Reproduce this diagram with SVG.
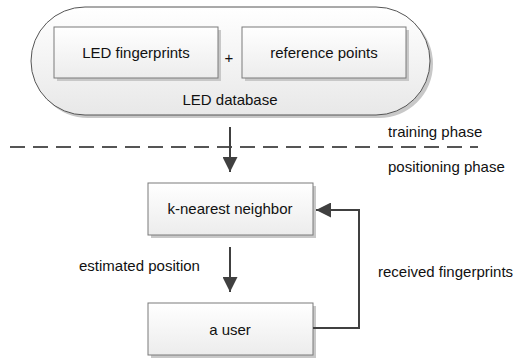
<svg xmlns="http://www.w3.org/2000/svg" width="528" height="358" viewBox="0 0 528 358">
<defs>
<linearGradient id="g" x1="0" y1="0" x2="0" y2="1"><stop offset="0" stop-color="#ffffff"/><stop offset="1" stop-color="#ececec"/></linearGradient>
<linearGradient id="gp" x1="0" y1="0" x2="0" y2="1"><stop offset="0" stop-color="#ffffff"/><stop offset="1" stop-color="#e8e8e8"/></linearGradient>
<marker id="ah" viewBox="0 0 10 10" refX="10" refY="5" markerWidth="7.5" markerHeight="7.5" orient="auto" markerUnits="strokeWidth"><path d="M0,0 L10,5 L0,10 z" fill="#404040"/></marker>
</defs>
<style>
text{font-family:"Liberation Sans",Arial,sans-serif;font-size:15px;fill:#111}
.box{fill:url(#g);stroke:#7a7a7a;stroke-width:1}
.sh{fill:#c8c8c8}
.c{fill:none;stroke:#404040;stroke-width:2}
</style>
<rect width="528" height="358" fill="#fff"/>
<g id="database">
<rect x="34" y="10" width="399" height="108" rx="54" class="sh"/>
<rect x="31" y="7" width="399" height="108" rx="54" fill="url(#gp)" stroke="#555" stroke-width="1"/>
<text x="230" y="105" text-anchor="middle">LED database</text>
</g>
<g id="led-fingerprints">
<rect x="57" y="30" width="164" height="51" class="sh"/>
<rect x="54" y="27" width="164" height="51" class="box"/>
<text x="136" y="58" text-anchor="middle">LED fingerprints</text>
</g>
<text x="229" y="63" text-anchor="middle">+</text>
<g id="reference-points">
<rect x="245" y="30" width="164" height="51" class="sh"/>
<rect x="242" y="27" width="164" height="51" class="box"/>
<text x="324" y="58" text-anchor="middle">reference points</text>
</g>
<g id="knn">
<rect x="151" y="186" width="165" height="52" class="sh"/>
<rect x="148" y="183" width="165" height="52" class="box"/>
<text x="230" y="214" text-anchor="middle">k-nearest neighbor</text>
</g>
<g id="user">
<rect x="151" y="306" width="165" height="52" class="sh"/>
<rect x="148" y="303" width="165" height="52" class="box"/>
<text x="230" y="335" text-anchor="middle">a user</text>
</g>
<g id="phases">
<line x1="10" y1="147" x2="478" y2="147" stroke="#555" stroke-width="2" stroke-dasharray="15,8"/>
<text x="388" y="137">training phase</text>
<text x="388" y="172">positioning phase</text>
</g>
<g id="connectors">
<line x1="230" y1="127" x2="230" y2="172" class="c" marker-end="url(#ah)"/>
<line x1="230" y1="247" x2="230" y2="292" class="c" marker-end="url(#ah)"/>
<polyline points="313,328 359,328 359,210 316,210" class="c" marker-end="url(#ah)"/>
<text x="79" y="271">estimated position</text>
<text x="378" y="277">received fingerprints</text>
</g>
</svg>
